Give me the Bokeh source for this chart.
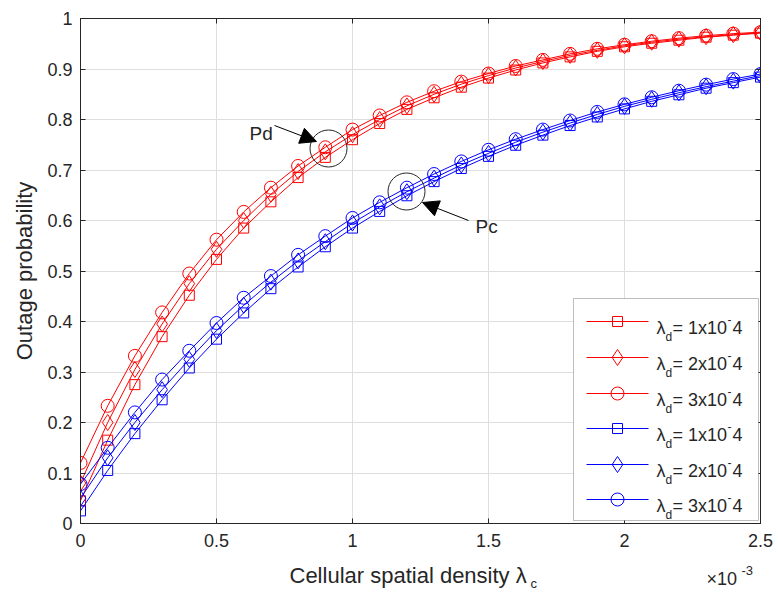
from bokeh.plotting import figure
from bokeh.models import (Range1d, FixedTicker, LinearAxis, Label, Arrow, NormalHead,
                          BoxAnnotation, ColumnDataSource)
from bokeh.embed import file_html
from bokeh.resources import INLINE

# Cellular spatial density, in units of 1e-3
lambda_c = [0.0, 0.1, 0.2, 0.3, 0.4, 0.5, 0.6, 0.7, 0.8, 0.9, 1.0, 1.1, 1.2,
            1.3, 1.4, 1.5, 1.6, 1.7, 1.8, 1.9, 2.0, 2.1, 2.2, 2.3, 2.4, 2.5]

# Pd (red) for lambda_d = 1e-4, 2e-4, 3e-4
pd_1 = [0.045, 0.165, 0.275, 0.370, 0.452, 0.523, 0.585, 0.637, 0.685, 0.725, 0.760,
        0.792, 0.820, 0.843, 0.864, 0.882, 0.898, 0.912, 0.924, 0.935, 0.944, 0.951,
        0.957, 0.963, 0.967, 0.971]
pd_2 = [0.080, 0.200, 0.305, 0.395, 0.475, 0.543, 0.600, 0.652, 0.697, 0.736, 0.770,
        0.800, 0.827, 0.850, 0.870, 0.887, 0.902, 0.915, 0.927, 0.937, 0.946, 0.953,
        0.959, 0.964, 0.968, 0.972]
pd_3 = [0.120, 0.233, 0.332, 0.418, 0.495, 0.562, 0.617, 0.665, 0.708, 0.745, 0.780,
        0.808, 0.834, 0.856, 0.875, 0.891, 0.906, 0.918, 0.930, 0.940, 0.948, 0.955,
        0.961, 0.966, 0.970, 0.973]

# Pc (blue) for lambda_d = 1e-4, 2e-4, 3e-4
pc_1 = [0.025, 0.105, 0.178, 0.245, 0.308, 0.365, 0.417, 0.465, 0.508, 0.548, 0.585,
        0.618, 0.649, 0.677, 0.703, 0.727, 0.749, 0.769, 0.788, 0.805, 0.821, 0.836,
        0.849, 0.862, 0.873, 0.884]
pc_2 = [0.050, 0.130, 0.200, 0.265, 0.325, 0.382, 0.432, 0.478, 0.520, 0.558, 0.595,
        0.627, 0.657, 0.684, 0.710, 0.733, 0.755, 0.775, 0.793, 0.810, 0.826, 0.840,
        0.853, 0.865, 0.876, 0.887]
pc_3 = [0.078, 0.150, 0.220, 0.285, 0.342, 0.397, 0.447, 0.490, 0.532, 0.569, 0.605,
        0.636, 0.665, 0.692, 0.717, 0.740, 0.761, 0.780, 0.798, 0.815, 0.830, 0.844,
        0.857, 0.869, 0.880, 0.890]

lambda_d_labels = ["1", "2", "3", "1", "2", "3"]

x_ticks = [0, 0.5, 1, 1.5, 2, 2.5]
x_tick_labels = ["0", "0.5", "1", "1.5", "2", "2.5"]
y_ticks = [0, 0.1, 0.2, 0.3, 0.4, 0.5, 0.6, 0.7, 0.8, 0.9, 1]
y_tick_labels = ["0", "0.1", "0.2", "0.3", "0.4", "0.5", "0.6", "0.7", "0.8", "0.9", "1"]

FONT = "Liberation Sans"
INK = "#262626"
RED = "#FF0000"
BLUE = "#0000FF"

W, H = 778, 594
L, R, T, B = 80, 760, 18, 523   # frame edges in pixels

p = figure(width=W, height=H, output_backend="svg", toolbar_location=None, tools="",
           x_range=Range1d(0, 2.5), y_range=Range1d(0, 1),
           min_border_left=L, min_border_right=W - R, min_border_top=T,
           min_border_bottom=H - B, background_fill_color="white",
           border_fill_color="white")
p.outline_line_color = INK
p.outline_line_width = 1


def dx(px):
    return (px - L) / (R - L) * 2.5


def dy(py):
    return (B - py) / (B - T)


def style_axis(ax, ticks, labels, show_labels=True):
    ax.ticker = FixedTicker(ticks=ticks)
    ax.major_label_overrides = {t: s for t, s in zip(ticks, labels)}
    ax.major_tick_in = 5
    ax.major_tick_out = 0
    ax.minor_tick_line_color = None
    ax.major_tick_line_color = INK
    ax.axis_line_color = INK
    ax.major_label_text_font = FONT
    ax.major_label_text_font_size = "18px"
    ax.major_label_text_color = INK
    if not show_labels:
        ax.major_label_text_alpha = 0
        ax.major_label_text_font_size = "1px"
        ax.major_label_standoff = 0


style_axis(p.xaxis[0], x_ticks, x_tick_labels)
p.xaxis[0].major_label_standoff = 10
style_axis(p.yaxis[0], y_ticks, y_tick_labels)
p.yaxis[0].major_label_standoff = 8
p.yaxis[0].axis_label = "Outage probability"
p.yaxis[0].axis_label_text_font = FONT
p.yaxis[0].axis_label_text_font_size = "22px"
p.yaxis[0].axis_label_text_font_style = "normal"
p.yaxis[0].axis_label_text_color = INK
p.yaxis[0].axis_label_standoff = 7

top_ax = LinearAxis()
style_axis(top_ax, x_ticks, x_tick_labels, show_labels=False)
p.add_layout(top_ax, "above")
right_ax = LinearAxis()
style_axis(right_ax, y_ticks, y_tick_labels, show_labels=False)
p.add_layout(right_ax, "right")

p.xgrid.ticker = FixedTicker(ticks=x_ticks)
p.ygrid.ticker = FixedTicker(ticks=y_ticks)
for g in (p.xgrid[0], p.ygrid[0]):
    g.grid_line_color = "#DEDEDE"
    g.grid_line_width = 1

series = [
    (pd_1, RED, "square", 10),
    (pd_2, RED, "diamond", 16),
    (pd_3, RED, "circle", 13),
    (pc_1, BLUE, "square", 10),
    (pc_2, BLUE, "diamond", 16),
    (pc_3, BLUE, "circle", 13),
]

for ys, color, marker, size in series:
    src = ColumnDataSource(dict(x=lambda_c, y=ys))
    p.line("x", "y", source=src, line_color=color, line_width=1)
    p.scatter("x", "y", source=src, marker=marker, size=size, fill_color=None,
              line_color=color, line_width=1)

# Annotations: Pd / Pc highlight circles and arrows
p.scatter([dx(328), dx(406)], [dy(148), dy(191)], marker="circle", size=37,
          fill_color=None, line_color=INK, line_width=1)
p.add_layout(Arrow(x_start=dx(274), y_start=dy(125), x_end=dx(316), y_end=dy(141),
                   line_color="black", line_width=1,
                   end=NormalHead(size=16, fill_color="black", line_color="black")))
p.add_layout(Arrow(x_start=dx(468), y_start=dy(220), x_end=dx(422), y_end=dy(202),
                   line_color="black", line_width=1,
                   end=NormalHead(size=16, fill_color="black", line_color="black")))
p.add_layout(Label(x=dx(249), y=dy(133), text="Pd", text_font=FONT,
                   text_font_size="19px", text_color=INK, text_baseline="alphabetic"))
p.add_layout(Label(x=dx(475), y=dy(226), text="Pc", text_font=FONT,
                   text_font_size="19px", text_color=INK, text_baseline="alphabetic"))


def outer_label(px, py, txt, fs, side):
    # texts outside the frame live in a side panel so they are not clipped
    p.add_layout(Label(x=dx(px), y=dy(py), text=txt, text_font=FONT,
                       text_font_size=fs, text_color=INK,
                       text_baseline="alphabetic"), side)


# x axis label with subscript, and the exponent multiplier
outer_label(289, 575, "Cellular spatial density \u03bb", "22px", "below")
outer_label(706, 578, "\u00d710", "18px", "below")
outer_label(530, 583, "c", "13px", "right")
outer_label(741, 570, "-3", "13px", "above")

# Legend box
p.add_layout(BoxAnnotation(left=dx(573), right=dx(758), top=dy(298), bottom=dy(520),
                           fill_color="white", fill_alpha=1, line_color=INK,
                           line_width=1, level="annotation"))
row_px = [321, 357, 393, 428, 464, 499]
for (ys, color, marker, size), rp, lab in zip(series, row_px, lambda_d_labels):
    yc = dy(rp)
    p.line([dx(586), dx(648)], [yc, yc], line_color=color, line_width=1, level="overlay")
    p.scatter([dx(617)], [yc], marker=marker, size=size, fill_color=None,
              line_color=color, line_width=1, level="overlay")
    parts = [
        (656, rp + 6, "\u03bb", "18px"),
        (665, rp + 15, "d", "12px"),
        (672, rp + 6, "= " + lab + "x10", "18px"),
        (727, rp - 2, "-", "12px"),
        (732, rp + 6, "4", "18px"),
    ]
    for px, py, txt, fs in parts:
        p.add_layout(Label(x=dx(px), y=dy(py), text=txt, text_font=FONT,
                           text_font_size=fs, text_color=INK,
                           text_baseline="alphabetic", level="overlay"))

open("out.html", "w").write(file_html(p, INLINE))
